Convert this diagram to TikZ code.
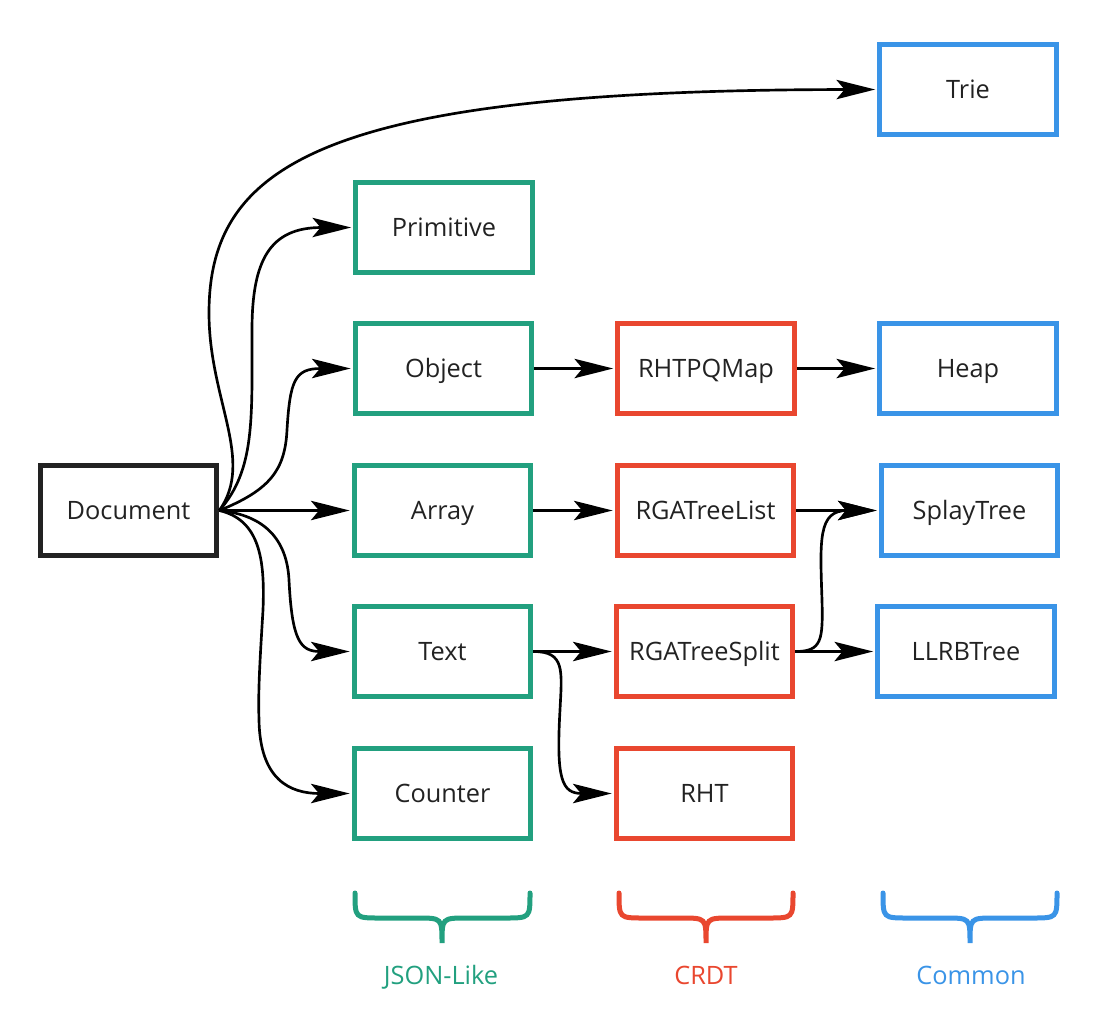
\documentclass[tikz,border=0pt]{standalone}
\usepackage{fontspec}
\setmainfont{Open Sans}
\usetikzlibrary{arrows.meta}
\definecolor{cgreen}{HTML}{22A07F}
\definecolor{cred}{HTML}{E9472F}
\definecolor{cblue}{HTML}{3A94E7}
\definecolor{cdark}{HTML}{222222}
\begin{document}
\begin{tikzpicture}[x=0.75pt,y=-0.75pt,
  box/.style={draw, line width=3.75pt, minimum width=132.5pt, minimum height=67.5pt, inner sep=0pt,
    text height=13.5pt, text depth=0pt,
    font=\fontsize{19}{23}\selectfont, text=cdark},
  gbox/.style={box, draw=cgreen},
  rbox/.style={box, draw=cred},
  bbox/.style={box, draw=cblue},
  conn/.style={line width=2pt, -{Stealth[length=29pt,width=14.5pt,inset=6pt]}, shorten >=1.5pt},
  brace/.style={line width=3.75pt, line cap=round},
  leg/.style={font=\fontsize{19}{23}\selectfont, text height=13.5pt, text depth=0pt}]
\useasboundingbox (0,0) rectangle (1103,1015);

\node[box, draw=cdark] (doc) at (128.5,510.5) {Document};
\node[bbox] (trie) at (968,89.5) {Trie};
\node[gbox] (prim) at (444,227.5) {Primitive};
\node[gbox] (obj) at (443.5,368.5) {Object};
\node[gbox] (arr) at (442.5,510.5) {Array};
\node[gbox] (txt) at (442.5,651.5) {Text};
\node[gbox] (cnt) at (442.5,793.5) {Counter};
\node[rbox] (rhtpq) at (706,368.5) {RHTPQMap};
\node[rbox] (rgal) at (705.5,510.5) {RGATreeList};
\node[rbox] (rgas) at (704.5,651.5) {RGATreeSplit};
\node[rbox] (rht) at (704.5,793.5) {RHT};
\node[bbox] (heap) at (968,368.5) {Heap};
\node[bbox] (splay) at (969.5,510.5) {SplayTree};
\node[bbox] (llrb) at (966,651.5) {LLRBTree};

% connectors from Document
\draw[conn] (doc.east) .. controls (255,460) and (209,400) .. (209,313)
  .. controls (209,163) and (326,90) .. (trie.west);
\draw[conn] (doc.east) .. controls (255,470) and (252,420) .. (252,330)
  .. controls (252,260) and (270,227.5) .. (prim.west);
\draw[conn] (doc.east) .. controls (270,490) and (285,470) .. (287,430)
  .. controls (290,380) and (295,368.5) .. (obj.west);
\draw[conn] (doc.east) -- (arr.west);
\draw[conn] (doc.east) .. controls (265,515) and (287,540) .. (289,580)
  .. controls (292,640) and (300,651.5) .. (txt.west);
\draw[conn] (doc.east) .. controls (260,520) and (265,560) .. (263,610)
  .. controls (260,660) and (258,690) .. (259,720)
  .. controls (260,780) and (290,793.5) .. (cnt.west);

% other connectors
\draw[conn] (obj.east) -- (rhtpq.west);
\draw[conn] (rhtpq.east) -- (heap.west);
\draw[conn] (arr.east) -- (rgal.west);
\draw[conn] (rgal.east) -- (splay.west);
\draw[conn] (txt.east) -- (rgas.west);
\draw[conn] (txt.east) .. controls (565,651.5) and (562,670) .. (560,710)
  .. controls (556,780) and (562,793.5) .. (rht.west);
\draw[conn] (rgas.east) -- (llrb.west);
\draw[conn] (rgas.east) .. controls (822,651.5) and (823,640) .. (822,600)
  .. controls (820,540) and (818,510.5) .. (splay.west);

% braces
\draw[brace, cgreen] (355,893) .. controls (355,918) .. (380,918) -- (417,918)
  .. controls (442,918) .. (442,943) .. controls (442,918) .. (467,918) -- (505,918)
  .. controls (530,918) .. (530,893);
\draw[brace, cred] (619,893) .. controls (619,918) .. (644,918) -- (681,918)
  .. controls (706,918) .. (706,943) .. controls (706,918) .. (731,918) -- (768,918)
  .. controls (793,918) .. (793,893);
\draw[brace, cblue] (883,893) .. controls (883,918) .. (908,918) -- (945,918)
  .. controls (970,918) .. (970,943) .. controls (970,918) .. (995,918) -- (1032,918)
  .. controls (1057,918) .. (1057,893);

\node[leg, text=cgreen] (lj) at (441,975) {JSON-Like};
\node[leg, text=cred] (lc) at (706,975) {CRDT};
\node[leg, text=cblue] (lm) at (971,975) {Common};
\end{tikzpicture}
\end{document}
